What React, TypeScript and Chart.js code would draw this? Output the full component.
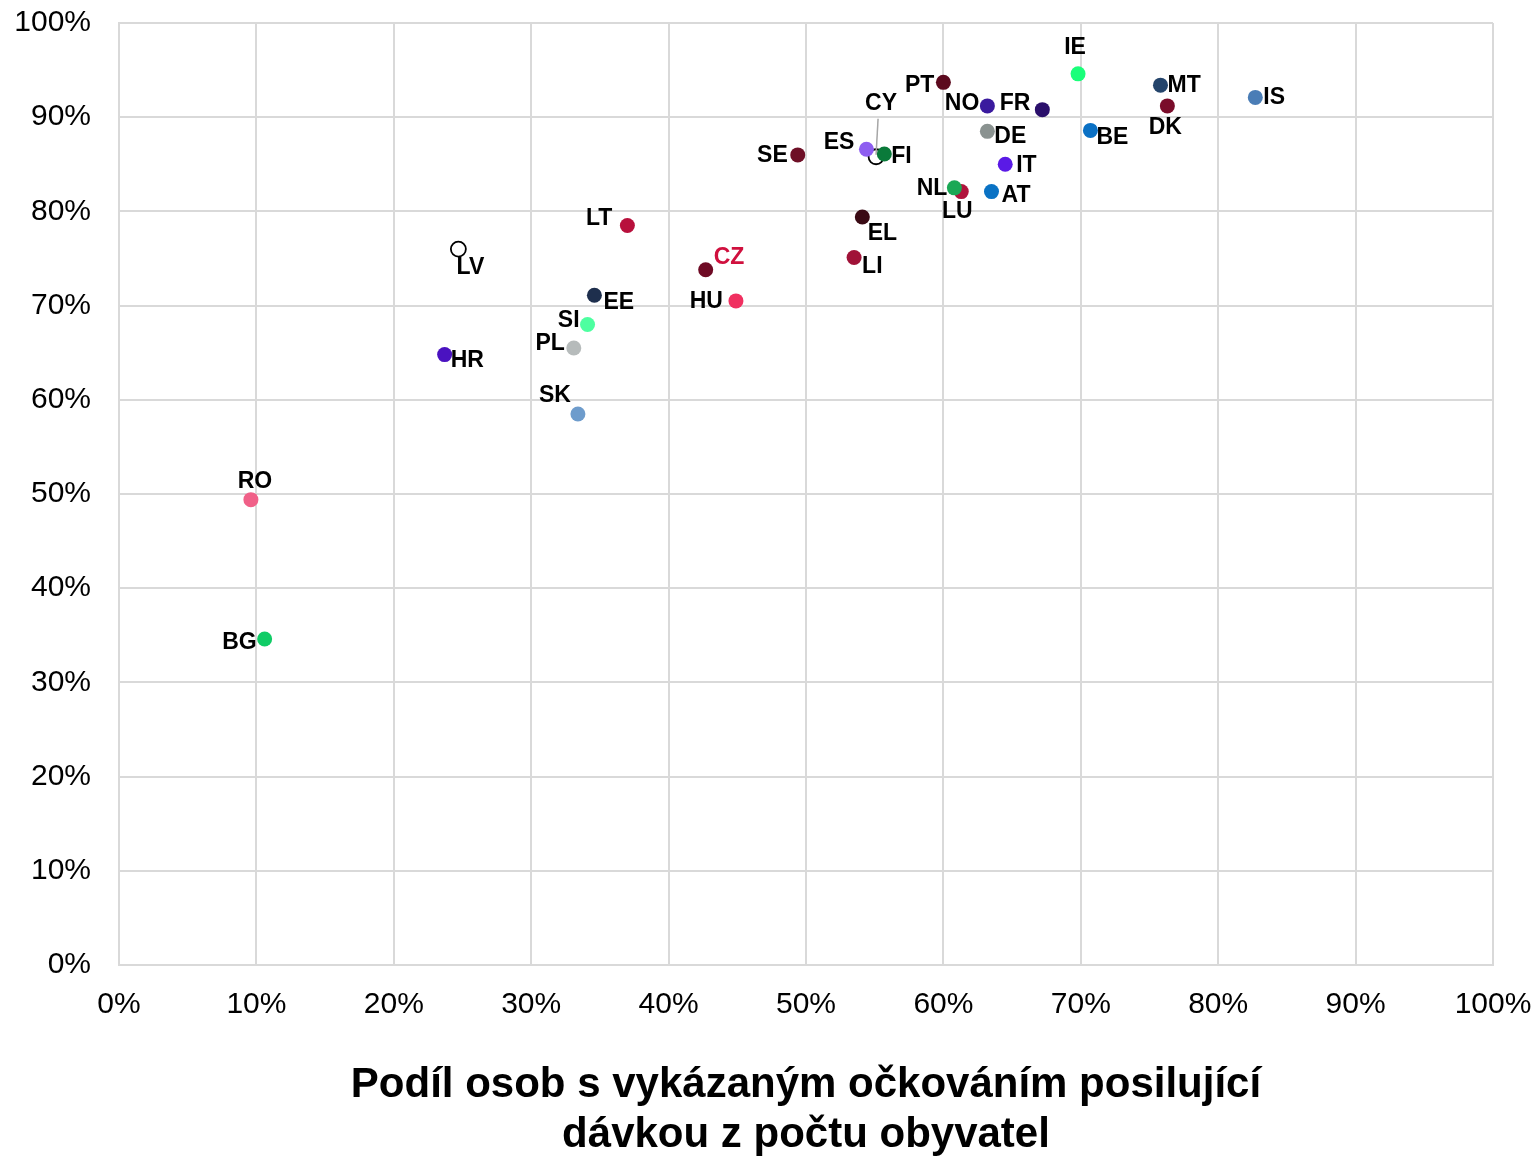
import React, { useEffect, useRef } from "react";
import { Chart, registerables } from "chart.js";

Chart.register(...registerables);

// Drawing order matters (later points sit on top)
const countries = ["IE","PT","MT","IS","NO","FR","DK","DE","BE","CY","ES","FI","SE","IT","LU","NL","AT","EL","LI","LT","LV","CZ","HU","EE","SI","PL","HR","SK","RO","BG"];
const boosterShare = [69.8,60.0,75.8,82.7,63.2,67.2,76.3,63.2,70.7,55.1,54.4,55.7,49.4,64.5,61.3,60.8,63.5,54.1,53.5,37.0,24.7,42.7,44.9,34.6,34.1,33.1,23.7,33.4,9.6,10.6];
const vaccinatedShare = [94.6,93.7,93.4,92.1,91.2,90.8,91.2,88.5,88.6,85.8,86.6,86.1,86.0,85.0,82.1,82.5,82.1,79.4,75.1,78.5,76.0,73.8,70.5,71.1,68.0,65.5,64.8,58.5,49.4,34.6];
const pointColors = ["#1aff7a","#5c0a1e","#24446b","#4a7db6","#3a1a9e","#2a0f6b","#7a0c2a","#8a9290","#0a70c4","#ffffff","#8e5ef0","#0a7a3a","#6e0f26","#5a1ae6","#b0143c","#1aa855","#0a72c4","#3a0a14","#a01238","#b8103c","#ffffff","#6e0a24","#f03060","#1e2f4d","#4dffa0","#b6bbbb","#4a12c0","#6e9ccc","#f06088","#10cc66"];
const hollowCountries = ["CY","LV"];
const highlightCountry = "CZ";
const axisTicks = [0,10,20,30,40,50,60,70,80,90,100];
const xTitle = ["Podíl osob s vykázaným očkováním posilující", "dávkou z počtu obyvatel"];

// label placement relative to point: [dx, dy, align]
const labelPlacement: Record<string, [number, number, CanvasTextAlign]> = {
  IE: [-3, -26, "center"], PT: [-9, 3, "right"], MT: [7, 0, "left"], IS: [8, 0, "left"],
  NO: [-8, -2, "right"], FR: [-12, -6, "right"], DK: [-2, 22, "center"], DE: [7, 5, "left"],
  BE: [6, 7, "left"], ES: [-12, -7, "right"], CY: [5, -53, "center"], FI: [7, 3, "left"],
  SE: [-10, 1, "right"], IT: [11, 1, "left"], NL: [-7, 1, "right"], LU: [-4, 20, "center"],
  AT: [10, 4, "left"], EL: [20, 17, "center"], LI: [8, 9, "left"], LT: [-15, -7, "right"],
  LV: [12, 19, "center"], CZ: [8, -12, "left"], HU: [-13, 1, "right"], EE: [9, 7, "left"],
  SI: [-8, -4, "right"], PL: [-9, -4, "right"], HR: [6, 6, "left"], SK: [-7, -18, "right"],
  RO: [4, -18, "center"], BG: [-8, 4, "right"],
};

const labelPlugin = {
  id: "countryLabels",
  afterDatasetsDraw(chart: any) {
    const ctx = chart.ctx;
    const meta = chart.getDatasetMeta(0);
    ctx.save();
    ctx.font = "bold 23px 'Liberation Sans', Arial, sans-serif";
    ctx.textBaseline = "middle";
    meta.data.forEach((el: any, i: number) => {
      const code = countries[i];
      const p = labelPlacement[code] || [8, 0, "left"];
      const x = el.x + p[0];
      const y = el.y + p[1];
      if (code === "CY") {
        ctx.strokeStyle = "#a6a6a6";
        ctx.lineWidth = 1.5;
        ctx.beginPath();
        ctx.moveTo(el.x + 2, y + 15);
        ctx.lineTo(el.x, el.y - 2);
        ctx.stroke();
      }
      ctx.fillStyle = code === highlightCountry ? "#d0103e" : "#000000";
      ctx.textAlign = p[2];
      ctx.fillText(code, x, y);
    });
    ctx.restore();
  },
};

export default function App() {
  const ref = useRef<HTMLCanvasElement>(null);
  useEffect(() => {
    document.body.style.margin = "0";
    const data = countries.map((c, i) => ({ x: boosterShare[i], y: vaccinatedShare[i] }));
    const gridColor = "#d9d9d9";
    const tickFont = { family: "'Liberation Sans', Arial, sans-serif", size: 30 };
    const chart = new Chart(ref.current!, {
      type: "scatter",
      data: {
        datasets: [
          {
            data,
            backgroundColor: pointColors,
            borderColor: countries.map((c) => (hollowCountries.includes(c) ? "#000000" : "rgba(0,0,0,0)")),
            borderWidth: countries.map((c) => (hollowCountries.includes(c) ? 1.8 : 0)),
            pointRadius: 7.5,
            pointHoverRadius: 7.5,
          },
        ],
      },
      options: {
        animation: false,
        responsive: true,
        maintainAspectRatio: false,
        layout: { padding: { top: 23, right: 44, left: 0, bottom: 0 } },
        plugins: { legend: { display: false }, tooltip: { enabled: false } },
        scales: {
          x: {
            type: "linear",
            min: 0,
            max: 100,
            afterBuildTicks: (s: any) => { s.ticks = axisTicks.map((v) => ({ value: v })); },
            afterFit: (s: any) => { s.height = 194; s.paddingLeft = 0; s.paddingRight = 0; },
            grid: { color: gridColor, lineWidth: 2, drawTicks: false },
            border: { color: gridColor, width: 2 },
            ticks: { color: "#000", font: tickFont, padding: 22, maxRotation: 0, callback: (v: any) => v + "%" },
            title: {
              display: true,
              text: xTitle,
              color: "#000",
              font: { family: "'Liberation Sans', Arial, sans-serif", size: 42, weight: "bold", lineHeight: "50px" },
              padding: { top: 0, bottom: -1 },
            },
          },
          y: {
            type: "linear",
            min: 0,
            max: 100,
            afterBuildTicks: (s: any) => { s.ticks = axisTicks.map((v) => ({ value: v })); },
            afterFit: (s: any) => { s.width = 119; s.paddingTop = 0; s.paddingBottom = 0; },
            grid: { color: gridColor, lineWidth: 2, drawTicks: false },
            border: { color: gridColor, width: 2 },
            ticks: { color: "#000", font: tickFont, padding: 28, callback: (v: any) => v + "%" },
          },
        },
      },
      plugins: [labelPlugin],
    });
    return () => chart.destroy();
  }, []);
  return (
    <div style={{ width: 1537, height: 1159, position: "relative" }}>
      <canvas ref={ref} />
    </div>
  );
}
